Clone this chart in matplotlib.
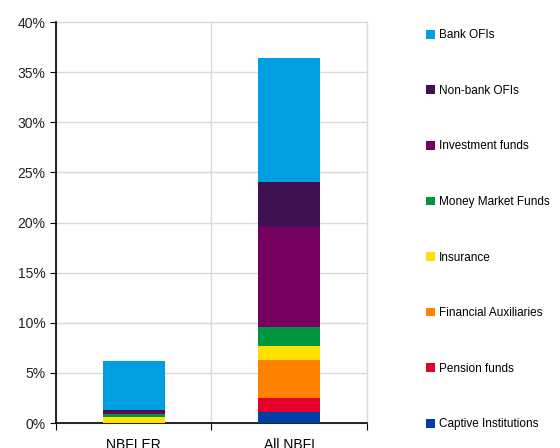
import numpy as np
import matplotlib
matplotlib.use("Agg")
from matplotlib import pyplot as plt

# categories and stacked series (share, %)
categories = ["NBFI ER", "All NBFI"]
series_names = ["Captive Institutions", "Pension funds", "Financial Auxiliaries",
                "Insurance", "Money Market Funds", "Investment funds",
                "Non-bank OFIs", "Bank OFIs"]
captive = [0.0, 1.1]
pension = [0.0, 1.4]
fin_aux = [0.0, 3.8]
insurance = [0.6, 1.4]
mmf = [0.3, 1.9]
inv_funds = [0.2, 10.0]
nonbank_ofis = [0.2, 4.4]
bank_ofis = [4.9, 12.4]
colors = ["#003da5", "#e4002b", "#ff8200", "#ffe000", "#00963f",
          "#76005f", "#3f1150", "#009fdf"]

plt.rcParams["font.family"] = ["Liberation Sans", "DejaVu Sans"]

fig = plt.figure(figsize=(5.6, 4.48), dpi=100)
ax = fig.add_axes([0.1, 0.0558, 0.555, 0.895])

x = np.arange(len(categories))
bottom = np.zeros(len(categories))
handles = []
for name, vals, c in zip(series_names,
                         [captive, pension, fin_aux, insurance, mmf,
                          inv_funds, nonbank_ofis, bank_ofis], colors):
    b = ax.bar(x, vals, 0.4, bottom=bottom, color=c, label=name, zorder=3)
    handles.append(b)
    bottom += np.array(vals)

ax.set_xlim(-0.5, 1.5)
ax.set_ylim(0, 40)
ax.set_yticks(np.arange(0, 41, 5))
ax.set_yticklabels([f"{v}%" for v in range(0, 41, 5)], fontsize=10, color="#222222")
ax.set_xticks([-0.5, 0.5, 1.5])
ax.set_xticklabels([])
ax.set_xticks(x, minor=True)
ax.set_xticklabels(categories, minor=True, fontsize=10)
ax.tick_params(axis="x", which="major", length=5, direction="out")
ax.tick_params(axis="x", which="minor", length=0, pad=11)
ax.tick_params(axis="y", length=4, direction="out")

ax.grid(True, axis="both", which="major", color="#d9d9d9", lw=1, zorder=0,
        clip_on=False)
for s in ["top", "right"]:
    ax.spines[s].set_visible(False)
ax.spines["left"].set_linewidth(1.2)
ax.spines["bottom"].set_linewidth(1.2)

leg = fig.legend(handles[::-1], series_names[::-1], loc="upper left",
                 bbox_to_anchor=(0.752, 0.945), frameon=False, fontsize=8.5,
                 handlelength=0.75, handleheight=0.75, handletextpad=0.35,
                 labelspacing=3.69, borderaxespad=0)

fig.savefig("out.png", dpi=100)
